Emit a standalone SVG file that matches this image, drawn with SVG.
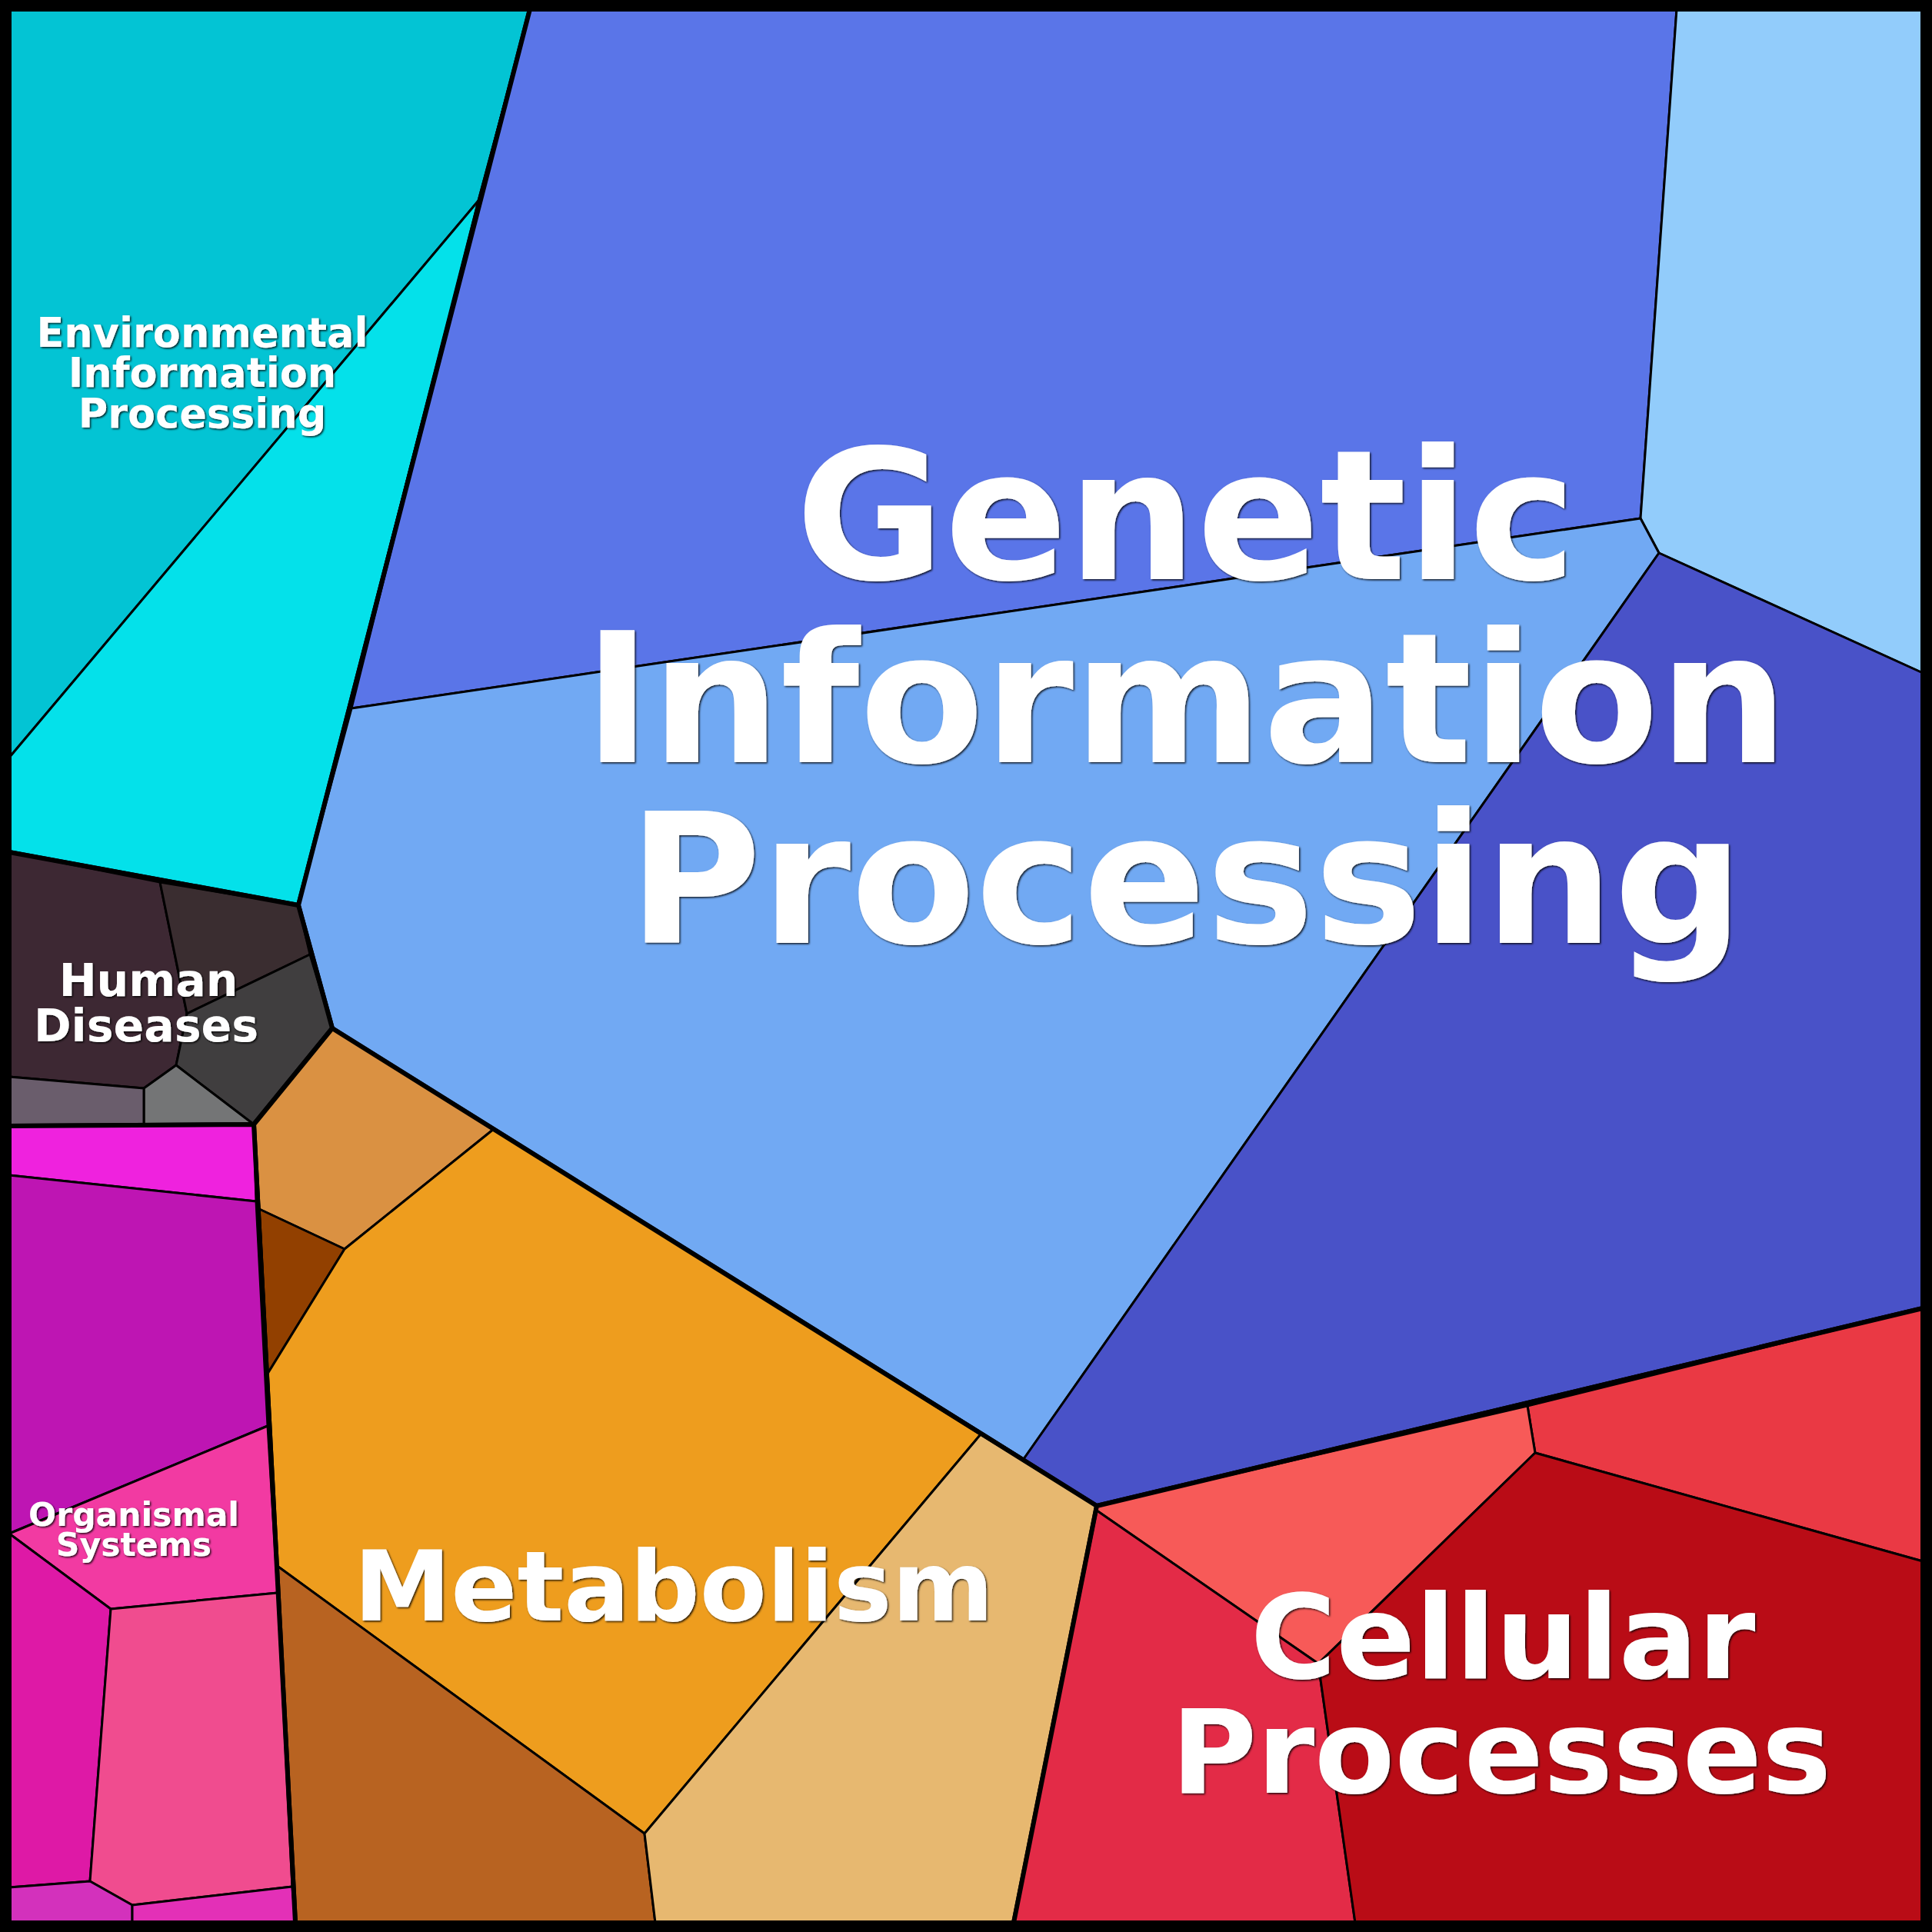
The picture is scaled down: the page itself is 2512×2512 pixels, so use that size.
<svg xmlns="http://www.w3.org/2000/svg" width="2512" height="2512" viewBox="0 0 2512 2512">
<defs>
<style>
.c{stroke:#000;stroke-width:3;stroke-linejoin:round}
.r{fill:none;stroke:#000;stroke-width:6;stroke-linejoin:round}
.t{font-family:"DejaVu Sans","Liberation Sans",sans-serif;font-weight:bold;fill:#fff;text-anchor:middle;filter:url(#sh)}
</style>
<filter id="sh" x="-5%" y="-5%" width="110%" height="110%">
<feDropShadow dx="1.5" dy="1.5" stdDeviation="0.8" flood-color="#000" flood-opacity="0.85"/>
</filter>
</defs>
<g id="environmental-information-processing">
<polygon class="c" fill="#03C4D4" points="12,12 689,12 622,261 12,985"/>
<polygon class="c" fill="#04E1EA" points="12,985 622,261 388,1177 12,1108"/>
<polygon class="r" points="12,12 689,12 388,1177 12,1108"/>
</g>
<g id="genetic-information-processing">
<polygon class="c" fill="#5A75E8" points="689,12 2180,12 2133,674 457,921 622,261"/>
<polygon class="c" fill="#92CCFB" points="2180,12 2500,12 2500,875 2157,719 2133,674"/>
<polygon class="c" fill="#71A9F3" points="457,921 2133,674 2157,719 1331,1897 432,1337 388,1177"/>
<polygon class="c" fill="#4952C8" points="2157,719 2500,875 2500,1701 1426,1958 1331,1897"/>
<polygon class="r" points="689,12 2500,12 2500,1701 1426,1958 432,1337 388,1177"/>
</g>
<g id="human-diseases">
<polygon class="c" fill="#3D2833" points="12,1108 208,1147 243,1318 229,1385 187,1415 12,1400"/>
<polygon class="c" fill="#3A2D30" points="208,1147 388,1177 403,1241 243,1318"/>
<polygon class="c" fill="#403E3F" points="243,1318 403,1241 432,1337 330,1462 229,1385"/>
<polygon class="c" fill="#747576" points="187,1415 229,1385 330,1462 187,1462"/>
<polygon class="c" fill="#6A5D6C" points="12,1400 187,1415 187,1462 12,1464"/>
<polygon class="r" points="12,1108 388,1177 432,1337 330,1462 12,1464"/>
</g>
<g id="metabolism">
<polygon class="c" fill="#DA9142" points="330,1462 432,1337 642,1468 448,1624 337,1572"/>
<polygon class="c" fill="#924000" points="337,1572 448,1624 348,1786"/>
<polygon class="c" fill="#EE9D1E" points="448,1624 642,1468 1275,1865 838,2384 359,2035 348,1786"/>
<polygon class="c" fill="#B86321" points="359,2035 838,2384 852,2500 384,2500"/>
<polygon class="c" fill="#E7B870" points="838,2384 1275,1865 1426,1958 1318,2500 852,2500"/>
<polygon class="r" points="330,1462 432,1337 1426,1958 1318,2500 384,2500"/>
</g>
<g id="organismal-systems">
<polygon class="c" fill="#EF22DE" points="12,1464 330,1462 333,1562 12,1528"/>
<polygon class="c" fill="#BE15B3" points="12,1528 333,1562 348,1854 12,1994"/>
<polygon class="c" fill="#F23AA2" points="12,1994 348,1854 361,2071 144,2092"/>
<polygon class="c" fill="#DE19A6" points="12,1994 144,2092 117,2446 12,2454"/>
<polygon class="c" fill="#F04C8F" points="144,2092 361,2071 380,2453 172,2477 117,2446"/>
<polygon class="c" fill="#D331BC" points="12,2454 117,2446 172,2477 172,2500 12,2500"/>
<polygon class="c" fill="#E330B7" points="172,2477 380,2453 384,2500 172,2500"/>
<polygon class="r" points="12,1464 330,1462 384,2500 12,2500"/>
</g>
<g id="cellular-processes">
<polygon class="c" fill="#EA3944" points="1986,1828 2500,1701 2500,2030 1996,1889"/>
<polygon class="c" fill="#F75A58" points="1426,1958 1986,1828 1996,1889 1714,2163 1426,1964"/>
<polygon class="c" fill="#E32B47" points="1426,1964 1714,2163 1762,2500 1318,2500"/>
<polygon class="c" fill="#B90C16" points="1996,1889 2500,2030 2500,2500 1762,2500 1714,2163"/>
<polygon class="r" points="1426,1958 2500,1701 2500,2500 1318,2500"/>
</g>
<g id="connectors"></g>
<rect x="6" y="6" width="2500" height="2500" fill="none" stroke="#000" stroke-width="12"/>
<g id="labels">
<text class="t" font-size="52.5" x="263" y="451">Environmental</text>
<text class="t" font-size="52.5" x="263" y="503">Information</text>
<text class="t" font-size="52.5" x="263" y="556">Processing</text>
<text class="t" font-size="236" x="1542" y="753">Genetic</text>
<text class="t" font-size="236" x="1542" y="991">Information</text>
<text class="t" font-size="236" x="1542" y="1226">Processing</text>
<text class="t" font-size="58.5" x="193" y="1295">Human</text>
<text class="t" font-size="58.5" x="190" y="1354">Diseases</text>
<text class="t" font-size="127" x="876" y="2107">Metabolism</text>
<text class="t" font-size="42.5" x="174" y="1984">Organismal</text>
<text class="t" font-size="42.5" x="174" y="2023">Systems</text>
<text class="t" font-size="152" x="1954" y="2182">Cellular</text>
<text class="t" font-size="152" x="1952" y="2331">Processes</text>
</g>
</svg>
